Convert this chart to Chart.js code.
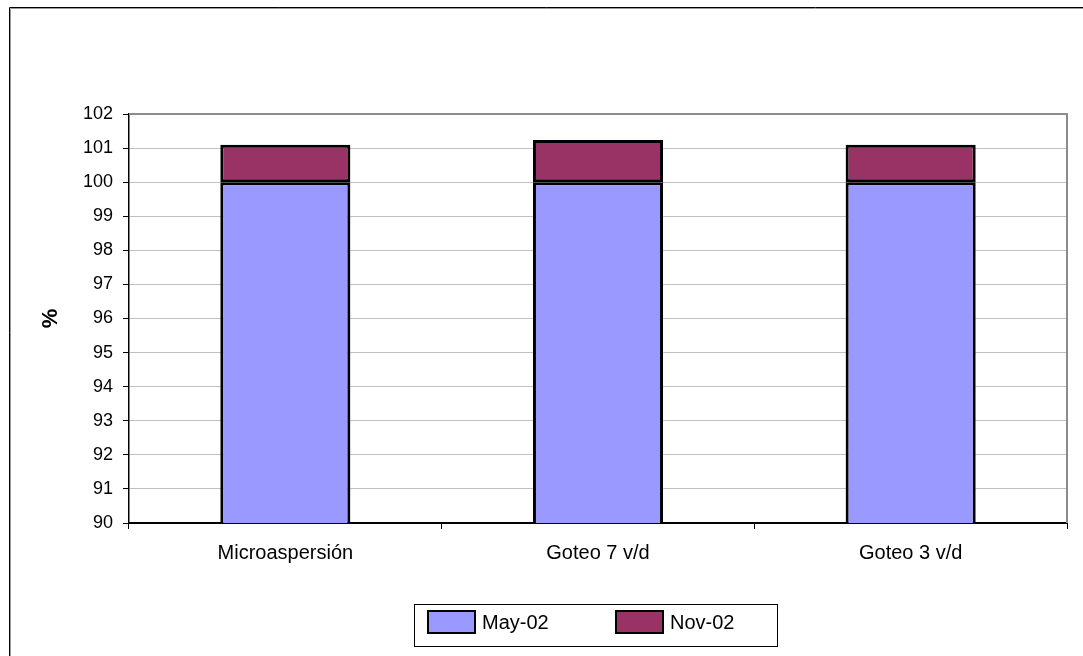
<!DOCTYPE html>
<html>
<head>
<meta charset="utf-8">
<script src="https://cdn.jsdelivr.net/npm/chart.js@4/dist/chart.umd.min.js"></script>
<style>
  html, body { margin: 0; padding: 0; background: #fff; }
  #wrap { width: 1083px; height: 656px; position: relative; }
</style>
</head>
<body>
<div id="wrap"><canvas id="c" width="1083" height="656"></canvas></div>
<script>
// Categories and series (stacked percentages)
const categories = ['Microaspersión', 'Goteo 7 v/d', 'Goteo 3 v/d'];
const may02 = [100, 100, 100];
const nov02 = [1.1, 1.24, 1.1];
const seriesLabels = ['May-02', 'Nov-02'];
const seriesColors = ['#9999FF', '#993366'];
const yMin = 90, yMax = 102, yStep = 1;
const yTitle = '%';

const FONT = "'Liberation Sans', Arial, Helvetica, sans-serif";

// Outer frame, plot-area border and the boxed legend
const decor = {
  id: 'decor',
  beforeDraw(chart) {
    const ctx = chart.ctx;
    ctx.save();
    ctx.fillStyle = '#fff';
    ctx.fillRect(0, 0, chart.width, chart.height);
    ctx.strokeStyle = '#000';
    ctx.lineWidth = 1;
    ctx.beginPath();
    ctx.moveTo(9.5, chart.height + 5);
    ctx.lineTo(9.5, 7.5);
    ctx.lineTo(chart.width + 5, 7.5);
    ctx.stroke();
    ctx.strokeStyle = '#9a9a9a';
    ctx.beginPath();
    ctx.moveTo(10.5, chart.height + 5);
    ctx.lineTo(10.5, 8.5);
    ctx.lineTo(chart.width + 5, 8.5);
    ctx.stroke();
    ctx.restore();
  },
  beforeDatasetsDraw(chart) {
    const { ctx, chartArea: a } = chart;
    ctx.save();
    ctx.strokeStyle = '#8c8c8c';
    ctx.lineWidth = 2;
    ctx.beginPath();
    ctx.moveTo(a.left, a.top);
    ctx.lineTo(a.right, a.top);
    ctx.lineTo(a.right, a.bottom);
    ctx.stroke();
    ctx.restore();
  },
  afterDraw(chart) {
    const ctx = chart.ctx;
    ctx.save();
    ctx.strokeStyle = '#000';
    ctx.lineWidth = 1;
    ctx.strokeRect(414.5, 604.5, 363, 42);
    const swatchX = [427, 615];
    chart.data.datasets.forEach((ds, i) => {
      const x = swatchX[i];
      ctx.fillStyle = ds.backgroundColor;
      ctx.fillRect(x, 610, 49, 24);
      ctx.strokeStyle = '#000';
      ctx.lineWidth = 2;
      ctx.strokeRect(x + 1, 611, 47, 22);
      ctx.fillStyle = '#000';
      ctx.font = '20px ' + FONT;
      ctx.textBaseline = 'middle';
      ctx.textAlign = 'left';
      ctx.fillText(ds.label, x + 55, 623);
    });
    ctx.restore();
  }
};

new Chart(document.getElementById('c'), {
  type: 'bar',
  data: {
    labels: categories,
    datasets: [
      { label: seriesLabels[0], data: may02, backgroundColor: seriesColors[0] },
      { label: seriesLabels[1], data: nov02, backgroundColor: seriesColors[1] }
    ]
  },
  options: {
    responsive: false,
    animation: false,
    devicePixelRatio: 1,
    layout: { padding: { left: 0, top: 114, right: 16, bottom: 0 } },
    datasets: {
      bar: {
        borderColor: '#000',
        borderWidth: 3,
        borderSkipped: false,
        categoryPercentage: 1,
        barPercentage: 0.416
      }
    },
    plugins: {
      legend: { display: false },
      tooltip: { enabled: false }
    },
    scales: {
      x: {
        stacked: true,
        afterFit(scale) { scale.height = 133; },
        grid: {
          offset: true,
          drawOnChartArea: false,
          drawTicks: true,
          tickLength: 6,
          tickColor: '#000',
          tickWidth: 1
        },
        border: { display: true, color: '#000', width: 2 },
        ticks: {
          color: '#000',
          padding: 12,
          font: { family: FONT, size: 20 }
        }
      },
      y: {
        stacked: true,
        min: yMin,
        max: yMax,
        afterFit(scale) { scale.width = 129; },
        ticks: {
          stepSize: yStep,
          color: '#000',
          padding: 10,
          font: { family: FONT, size: 18 }
        },
        grid: {
          color: '#c0c0c0',
          lineWidth: 1,
          drawTicks: true,
          tickLength: 6,
          tickColor: '#000',
          tickWidth: 1
        },
        border: { display: true, color: '#000', width: 1.5 },
        title: {
          display: true,
          text: yTitle,
          color: '#000',
          font: { family: FONT, size: 22, weight: 'bold' },
          padding: { top: 38, bottom: 0 }
        }
      }
    }
  },
  plugins: [decor]
});
</script>
</body>
</html>
